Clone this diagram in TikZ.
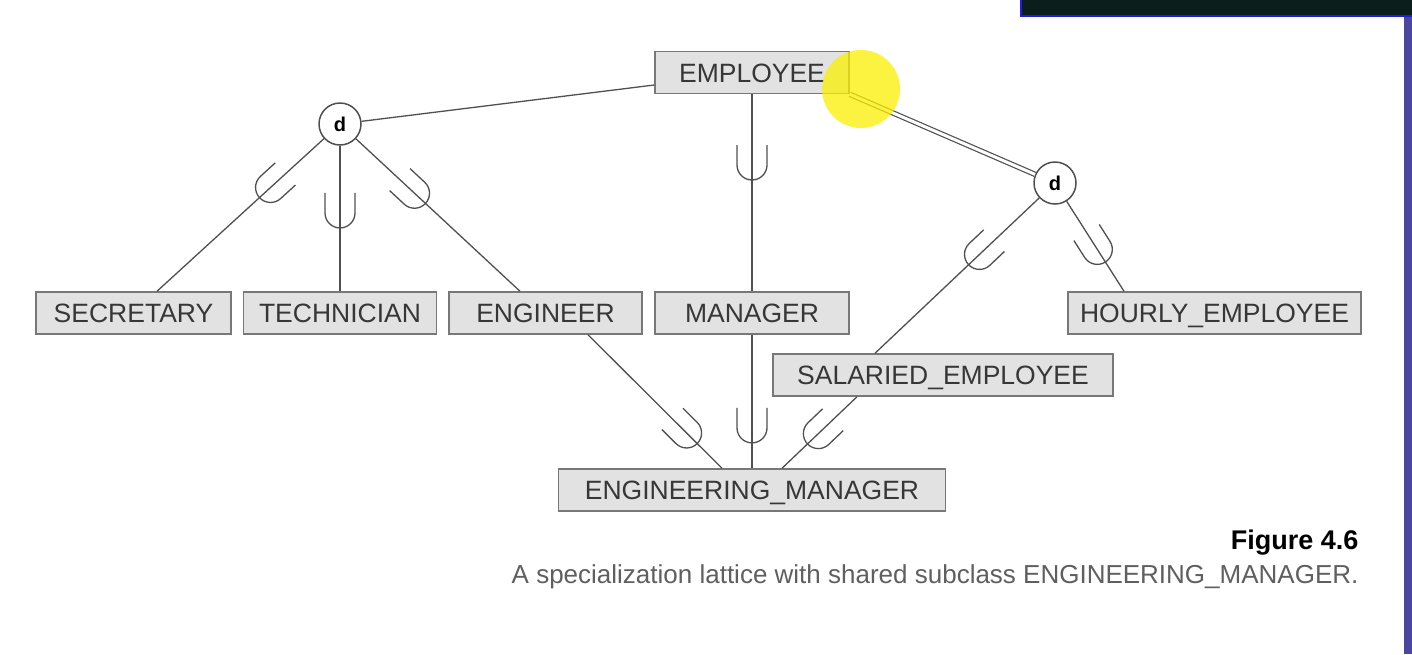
\documentclass[tikz,border=0pt]{standalone}
\usepackage{fontspec}
\setmainfont{Liberation Sans}
\usetikzlibrary{calc}
\definecolor{boxfill}{RGB}{226,226,226}
\definecolor{boxline}{RGB}{120,120,120}
\definecolor{txt}{RGB}{55,55,55}
\definecolor{ln}{RGB}{80,80,80}
\definecolor{capgray}{RGB}{95,95,95}
\definecolor{darkband}{RGB}{12,30,28}
\definecolor{bandblue}{RGB}{30,30,220}
\definecolor{sideblue}{RGB}{75,70,160}
\definecolor{hilite}{RGB}{250,240,0}
\newcommand\cupat[3]{\path let \p1=($(#2)-(#1)$), \n1={atan2(\y1,\x1)} in ($(#1)!#3!(#2)$) pic[rotate=\n1]{cup};}
\begin{document}
\begin{tikzpicture}[x=1pt,y=-1pt,
  ent/.style={draw=boxline, fill=boxfill, line width=1.5pt, minimum height=42pt, inner sep=0pt, text height=19pt, text depth=0pt, text=txt, font=\fontsize{26.5}{30}\selectfont},
  dcirc/.style={circle, draw=ln, fill=white, line width=1.5pt, minimum size=42pt, inner sep=0pt, font=\bfseries\fontsize{20}{24}\selectfont, text=black},
  conn/.style={draw=ln, line width=1.3pt},
  cup/.pic={\draw[ln, line width=1.3pt] (-35,15) -- (-15,15) .. controls (-6.72,15) and (0,8.28) .. (0,0) .. controls (0,-8.28) and (-6.72,-15) .. (-15,-15) -- (-35,-15);}
]
\useasboundingbox (0,0) rectangle (1412,654);
\fill[white] (0,0) rectangle (1412,654);

% nodes
\node[ent, minimum width=194pt] (EMP) at (752,72.5) {EMPLOYEE};
\node[dcirc] (dL) at (340,124) {d};
\node[dcirc] (dR) at (1055,183) {d};
\node[ent, minimum width=195pt] (SEC) at (133.5,313) {SECRETARY};
\node[ent, minimum width=193pt] (TEC) at (340,313) {TECHNICIAN};
\node[ent, minimum width=193pt] (ENG) at (545.5,313) {ENGINEER};
\node[ent, minimum width=194pt] (MAN) at (752,313) {MANAGER};
\node[ent, minimum width=293pt] (HOU) at (1214.5,313) {HOURLY\_EMPLOYEE};
\node[ent, minimum width=340pt] (SAL) at (943,375) {SALARIED\_EMPLOYEE};
\node[ent, minimum width=387pt] (ENGM) at (752,490) {ENGINEERING\_MANAGER};

% connection points
\coordinate (empL) at ($(EMP.west)+(0,12.5)$);
\coordinate (secT) at ($(SEC.north)+(23.5,0)$);
\coordinate (engT) at ($(ENG.north)+(-25.5,0)$);
\coordinate (salT) at ($(SAL.north)+(-68,0)$);
\coordinate (houT) at ($(HOU.north)+(-90.5,0)$);
\coordinate (engB) at ($(ENG.south)+(42.5,0)$);
\coordinate (emA) at ($(ENGM.north)+(-30,0)$);
\coordinate (salB) at ($(SAL.south)+(-86,0)$);
\coordinate (emC) at ($(ENGM.north)+(30,0)$);

% connectors
\draw[conn] (dL) -- (empL);
\draw[ln, line width=1.2pt, double=white, double distance=3pt] (EMP.south east) -- (dR);
\draw[conn] (EMP) -- (MAN);
\draw[conn] (dL) -- (secT);
\draw[conn] (dL) -- (TEC);
\draw[conn] (dL) -- (engT);
\draw[conn] (dR) -- (salT);
\draw[conn] (dR) -- (houT);
\draw[conn] (engB) -- (emA);
\draw[conn] (MAN) -- (ENGM);
\draw[conn] (salB) -- (emC);

% subset symbols
\cupat{EMP}{MAN}{0.447}
\cupat{dL}{secT}{0.44}
\cupat{dL}{TEC}{0.55}
\cupat{dL}{engT}{0.475}
\cupat{dR}{salT}{0.48}
\cupat{dR}{houT}{0.73}
\cupat{engB}{emA}{0.815}
\cupat{MAN.south}{ENGM.north}{0.81}
\cupat{salB}{emC}{0.66}

% caption
\node[anchor=base east, font=\bfseries\fontsize{27}{30}\selectfont, text=black] (fig) at (1362,549) {Figure 4.6};
\node[anchor=base east, font=\fontsize{26}{30}\selectfont, text=capgray] (cap) at (1362,583) {A specialization lattice with shared subclass ENGINEERING\_MANAGER.};

% screen artefacts
\fill[darkband] (1020,0) rectangle (1412,17);
\draw[bandblue, line width=2pt] (1021,0) -- (1021,16) -- (1412,16);
\fill[sideblue] (1404,17) rectangle (1412,654);
\fill[hilite, opacity=0.75] (861,89) circle[radius=39];
\end{tikzpicture}
\end{document}
